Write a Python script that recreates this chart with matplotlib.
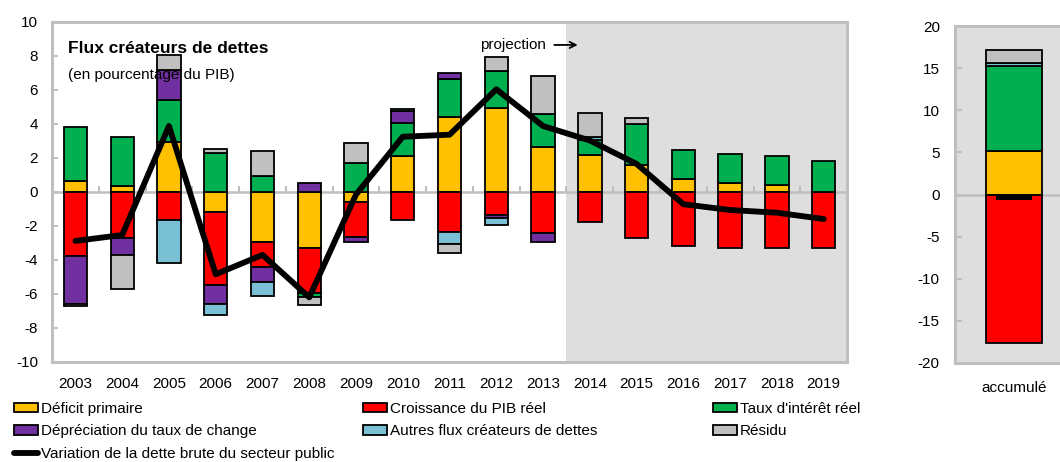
import numpy as np
import matplotlib.pyplot as plt
from matplotlib.patches import Patch
from matplotlib.lines import Line2D

plt.rcParams['font.family'] = ['Liberation Sans', 'DejaVu Sans']
plt.rcParams['font.size'] = 11
plt.rcParams['axes.unicode_minus'] = False

# Flux créateurs de dettes, en % du PIB
years = list(range(2003, 2020))
deficit_primaire = [0.65, 0.37, 2.92, -1.15, -2.92, -3.3, -0.57, 2.12, 4.43, 4.92, 2.67,
                    2.18, 1.59, 0.78, 0.51, 0.41, 0.0]
croissance_pib = [-3.75, -2.7, -1.65, -4.32, -1.47, -2.66, -2.1, -1.65, -2.37, -1.35, -2.43,
                  -1.75, -2.69, -3.18, -3.27, -3.27, -3.27]
taux_interet = [3.2, 2.88, 2.49, 2.27, 0.96, -0.24, 1.73, 1.92, 2.2, 2.22, 1.92,
                0.88, 2.39, 1.69, 1.71, 1.71, 1.82]
depreciation = [-2.85, -1.0, 1.77, -1.12, -0.92, 0.55, -0.25, 0.75, 0.39, -0.2, -0.49,
                0.0, 0.0, 0.0, 0.0, 0.0, 0.0]
autres_flux = [0.0, 0.0, -2.55, -0.65, -0.79, 0.0, 0.0, 0.12, -0.69, -0.4, 0.0,
               0.19, 0.0, 0.0, 0.0, 0.0, 0.0]
residu = [-0.1, -2.0, 0.88, 0.28, 1.45, -0.45, 1.13, 0.0, -0.51, 0.82, 2.23,
          1.38, 0.39, 0.0, 0.0, 0.0, 0.0]
variation_dette = [-2.88, -2.53, 3.88, -4.84, -3.7, -6.2, -0.15, 3.25, 3.37, 6.04, 3.88,
                   3.03, 1.65, -0.72, -1.06, -1.22, -1.59]

# cumul sur la période de projection
acc_flux = [5.15, -17.6, 10.05, 0.0, 0.4, 1.6]
acc_dette = -0.6

labels = ['Déficit primaire', 'Croissance du PIB réel', "Taux d'intérêt réel",
          'Dépréciation du taux de change', 'Autres flux créateurs de dettes', 'Résidu']
colors = ['#FFC000', '#FF0000', '#00B050', '#7030A0', '#7AC0D4', '#C0C0C0']
line_label = 'Variation de la dette brute du secteur public'

frame = '#BFBFBF'
shade = '#DEDEDE'


def stacked(ax, x, series, width):
    x = np.atleast_1d(x)
    pos = np.zeros(len(x))
    neg = np.zeros(len(x))
    for vals, c in zip(series, colors):
        vals = np.atleast_1d(np.asarray(vals, dtype=float))
        bottom = np.where(vals >= 0, pos, neg)
        m = vals != 0
        ax.bar(x[m], vals[m], width, bottom=bottom[m], color=c,
               edgecolor='black', linewidth=1.3, zorder=2)
        pos += np.clip(vals, 0, None)
        neg += np.clip(vals, None, 0)


fig = plt.figure(figsize=(10.6, 4.62), dpi=100)

# panneau principal
ax = fig.add_axes([0.0491, 0.2165, 0.75, 0.7359])
x = np.arange(len(years))
ax.axvspan(10.5, 16.5, color=shade, lw=0, zorder=0)
ax.axhline(0, color=frame, lw=1.8, zorder=1)
ax.vlines(x[:-1] + 0.5, 0, 0.35, color=frame, lw=1.5, zorder=1)

stacked(ax, x, [deficit_primaire, croissance_pib, taux_interet, depreciation,
                autres_flux, residu], 0.5)
ax.plot(x, variation_dette, color='black', lw=4.2, solid_joinstyle='round',
        solid_capstyle='round', zorder=4)

ax.set_xlim(-0.5, 16.5)
ax.set_ylim(-10, 10)
ax.set_yticks(range(-10, 11, 2))
ax.set_xticks(x, [str(y) for y in years])
ax.tick_params(axis='x', length=0, pad=11)
ax.tick_params(axis='y', direction='in', length=4, width=1.5, color=frame, pad=10)
for s in ax.spines.values():
    s.set_color(frame)
    s.set_linewidth(2.2)

ax.text(0.02, 0.923, 'Flux créateurs de dettes', transform=ax.transAxes,
        fontsize=12.5, fontweight='bold', va='center', ha='left', zorder=5)
ax.text(0.02, 0.844, '(en pourcentage du PIB)', transform=ax.transAxes,
        fontsize=11, va='center', ha='left', zorder=5)
ax.text(10.07, 8.65, 'projection', ha='right', va='center', fontsize=11, zorder=5)
ax.annotate('', xy=(10.8, 8.65), xytext=(10.18, 8.65),
            arrowprops=dict(arrowstyle='->', color='black', lw=1.3), zorder=5)

# panneau cumulé
ax2 = fig.add_axes([0.901, 0.2143, 0.1113, 0.7294])
ax2.set_facecolor(shade)
ax2.axhline(0, color=frame, lw=1.8, zorder=1)
stacked(ax2, [0], [[v] for v in acc_flux], 0.48)
ax2.bar(0, acc_dette, 0.3, color='black', zorder=3)
ax2.set_xlim(-0.5, 0.5)
ax2.set_ylim(-20, 20)
ax2.set_yticks(range(-20, 21, 5))
ax2.set_xticks([0], ['accumulé'])
ax2.tick_params(axis='x', length=0, pad=13)
ax2.tick_params(axis='y', direction='in', length=5, width=1.5, color=frame, pad=11)
for s in ax2.spines.values():
    s.set_color(frame)
    s.set_linewidth(2.2)

# légende sur trois colonnes
patches = [Patch(facecolor=c, edgecolor='black', linewidth=1.3) for c in colors]
line_handle = Line2D([], [], color='black', lw=4.2, solid_capstyle='round')
legend_kw = dict(loc='upper left', frameon=False, borderpad=0, borderaxespad=0,
                 handlelength=1.6, handleheight=0.6, handletextpad=0.15,
                 labelspacing=0.55, fontsize=11)
columns = [
    ([patches[0], patches[3], line_handle], [labels[0], labels[3], line_label], 14),
    ([patches[1], patches[4]], [labels[1], labels[4]], 363),
    ([patches[2], patches[5]], [labels[2], labels[5]], 713),
]
for handles, texts, left in columns:
    fig.legend(handles, texts, bbox_to_anchor=(left / 1060, 1 - 402 / 462), **legend_kw)

fig.savefig('out.png', dpi=100)
